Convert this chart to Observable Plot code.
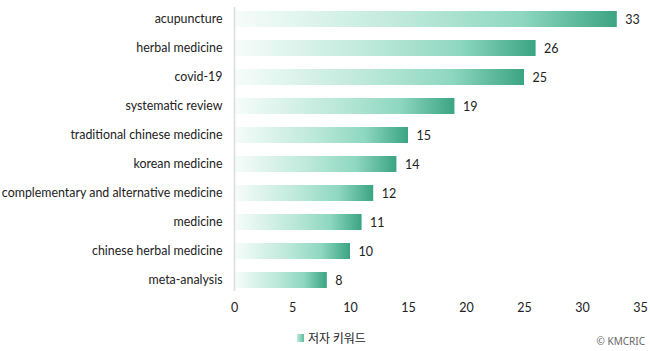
<!DOCTYPE html>
<html>
<head>
<meta charset="utf-8">
<script src="https://cdn.jsdelivr.net/npm/d3@7"></script>
<script src="https://cdn.jsdelivr.net/npm/@observablehq/plot@0.6"></script>
<style>
  body { margin: 0; background: #fff; font-family: Lato, "Noto Sans", "Noto Sans CJK KR", sans-serif; }
  #wrap { position: relative; width: 650px; height: 351px; }
  #legend { position: absolute; left: 0; top: 328px; width: 650px; height: 20px; }
  #legend .item { position: absolute; left: 297px; top: 1px; font-size: 12px; color: #222; font-family: "Noto Sans CJK KR", sans-serif; display: flex; align-items: center; }
  #legend .sw { width: 7px; height: 8px; margin-right: 4px; background: linear-gradient(to right, #bfe9dc, #5cbf9f); }
  #legend .cap { position: absolute; right: 5px; top: 6px; font-size: 10px; color: #666; font-family: "Noto Sans", sans-serif; }
</style>
</head>
<body>
<div id="wrap">
  <div id="chart"></div>
  <div id="legend">
    <div class="item"><span class="sw"></span>저자 키워드</div>
    <div class="cap">© KMCRIC</div>
  </div>
</div>
<script>
const keywords = ["acupuncture", "herbal medicine", "covid-19", "systematic review", "traditional chinese medicine", "korean medicine", "complementary and alternative medicine", "medicine", "chinese herbal medicine", "meta-analysis"];
const counts = [33, 26, 25, 19, 15, 14, 12, 11, 10, 8];
const xTicks = [0, 5, 10, 15, 20, 25, 30, 35];

const data = keywords.map((k, i) => ({ keyword: k, count: counts[i] }));

const chart = Plot.plot({
  width: 650,
  height: 326,
  marginLeft: 234,
  marginRight: 10,
  marginTop: 7,
  marginBottom: 35,
  style: { fontFamily: "Lato, 'Noto Sans', sans-serif", fontSize: "12px", color: "#333", background: "#fff" },
  x: { domain: [0, 35], ticks: xTicks, tickSize: 0, tickPadding: 12, label: null },
  y: { domain: keywords, padding: 0.45, paddingOuter: 0.12, label: null, tickSize: 0, tickPadding: 12 },
  marks: [
    () => {
      const svg = d3.create("svg:defs");
      const g = svg.append("linearGradient").attr("id", "barGrad").attr("x1", "0").attr("x2", "1").attr("y1", "0").attr("y2", "0");
      g.append("stop").attr("offset", "0%").attr("stop-color", "#f6fcfa");
      g.append("stop").attr("offset", "45%").attr("stop-color", "#bde9da");
      g.append("stop").attr("offset", "75%").attr("stop-color", "#8ed7c0");
      g.append("stop").attr("offset", "100%").attr("stop-color", "#3ba483");
      return svg.node();
    },
    Plot.barX(data, { x1: 0, x2: "count", y: "keyword", fill: "url(#barGrad)", insetLeft: 1 }),
    Plot.ruleX([0], { stroke: "#dcdcdc", strokeWidth: 1.5 }),
    Plot.text(data, { x: "count", y: "keyword", text: d => String(d.count), textAnchor: "start", dx: 8, fill: "#222", fontSize: 12.5 }),
    Plot.axisY({ tickSize: 0, tickPadding: 12, fontSize: 12.4, fill: "#222" }),
    Plot.axisX({ ticks: xTicks, tickSize: 0, tickPadding: 12, fontSize: 12.5, fill: "#222" })
  ]
});
document.getElementById("chart").appendChild(chart);
</script>
</body>
</html>
